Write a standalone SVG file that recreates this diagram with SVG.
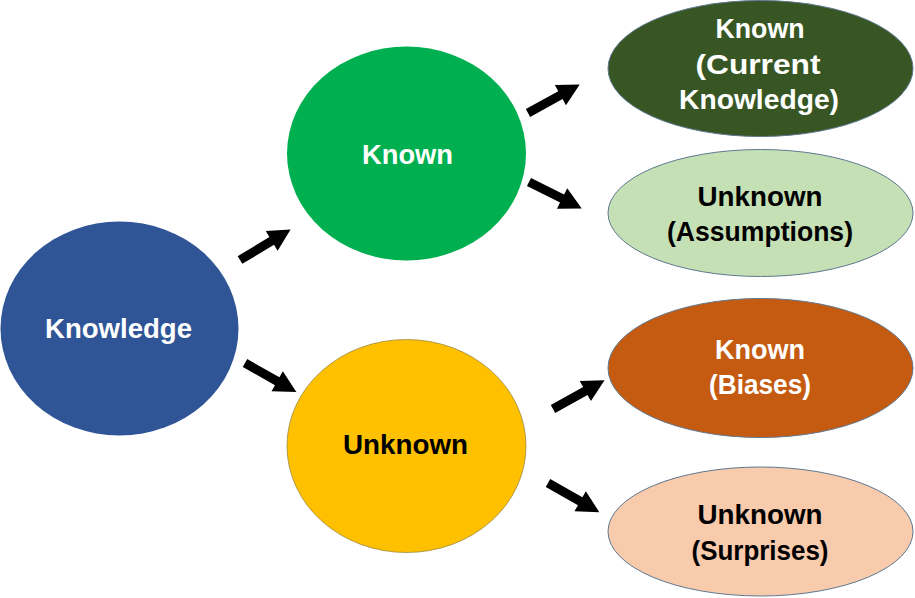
<svg xmlns="http://www.w3.org/2000/svg" xmlns:xlink="http://www.w3.org/1999/xlink" width="915" height="598" viewBox="0 0 915 598">
<style>
  text { font-family: "Liberation Sans", Arial, sans-serif; font-weight: bold; font-size: 28px; text-anchor: middle; }
  .w { fill: #ffffff; }
  .k { fill: #000000; }
  .oval { stroke: #5f7891; stroke-width: 1; }
  .arrow { fill: #000000; }
</style>
<defs>
  <path id="arr" d="M0,-4.5 L37,-4.5 L37,-11.5 L59,0 L37,11.5 L37,4.5 L0,4.5 Z"/>
</defs>
<rect width="915" height="598" fill="#ffffff"/>
<g id="connectors" class="arrow">
  <use xlink:href="#arr" href="#arr" transform="translate(240,260) rotate(-31)"/>
  <use xlink:href="#arr" href="#arr" transform="translate(245,363) rotate(29.5)"/>
  <use xlink:href="#arr" href="#arr" transform="translate(528,113) rotate(-28.8)"/>
  <use xlink:href="#arr" href="#arr" transform="translate(529,182) rotate(26.6)"/>
  <use xlink:href="#arr" href="#arr" transform="translate(553,409) rotate(-29.1)"/>
  <use xlink:href="#arr" href="#arr" transform="translate(548,483) rotate(29.6)"/>
</g>
<g id="knowledge">
  <ellipse cx="119.5" cy="328.5" rx="119" ry="107" fill="#2F5597"/>
  <text class="w" x="118.5" y="338" textLength="147" lengthAdjust="spacingAndGlyphs">Knowledge</text>
</g>
<g id="known">
  <ellipse cx="406.5" cy="153.5" rx="119.5" ry="107" fill="#00B050"/>
  <text class="w" x="407.5" y="164" textLength="91" lengthAdjust="spacingAndGlyphs">Known</text>
</g>
<g id="unknown">
  <ellipse cx="406.5" cy="446" rx="119.5" ry="106.5" fill="#FFC000" stroke="#9a8a40" stroke-width="0.8"/>
  <text class="k" x="405.5" y="454" textLength="125" lengthAdjust="spacingAndGlyphs">Unknown</text>
</g>
<g id="known-current">
  <ellipse class="oval" cx="760.5" cy="68.5" rx="152.5" ry="68" fill="#375623"/>
  <text class="w" x="760" y="38" textLength="89" lengthAdjust="spacingAndGlyphs">Known</text>
  <text class="w" x="758" y="74" textLength="125" lengthAdjust="spacingAndGlyphs">(Current</text>
  <text class="w" x="759" y="109" textLength="160" lengthAdjust="spacingAndGlyphs">Knowledge)</text>
</g>
<g id="unknown-assumptions">
  <ellipse class="oval" cx="760.5" cy="213" rx="152.5" ry="63.5" fill="#C5E0B4"/>
  <text class="k" x="760" y="205.5" textLength="125" lengthAdjust="spacingAndGlyphs">Unknown</text>
  <text class="k" x="760" y="241" textLength="186" lengthAdjust="spacingAndGlyphs">(Assumptions)</text>
</g>
<g id="known-biases">
  <ellipse class="oval" cx="760.5" cy="368" rx="152.5" ry="69.5" fill="#C55A11"/>
  <text class="w" x="760" y="358.5" textLength="90" lengthAdjust="spacingAndGlyphs">Known</text>
  <text class="w" x="760" y="394" textLength="102" lengthAdjust="spacingAndGlyphs">(Biases)</text>
</g>
<g id="unknown-surprises">
  <ellipse class="oval" cx="760.5" cy="531.5" rx="152.5" ry="64.5" fill="#F8CBAD"/>
  <text class="k" x="760" y="524" textLength="125" lengthAdjust="spacingAndGlyphs">Unknown</text>
  <text class="k" x="760" y="560" textLength="137" lengthAdjust="spacingAndGlyphs">(Surprises)</text>
</g>
</svg>
